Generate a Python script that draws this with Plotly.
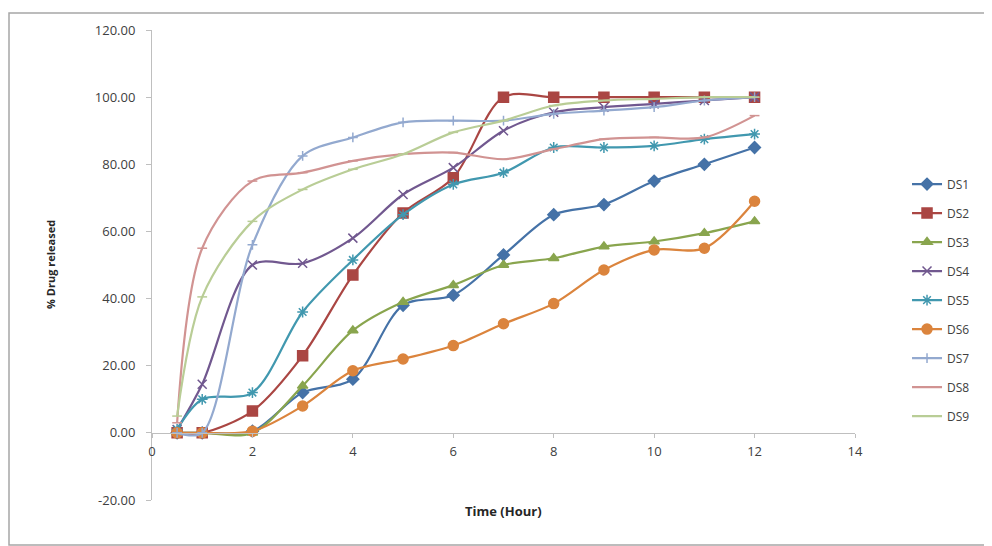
import plotly.graph_objects as go

# sampling times (hours)
time_h = [0.5, 1, 2, 3, 4, 5, 6, 7, 8, 9, 10, 11, 12]

# % drug released for each formulation
ds1 = [0, 0, 0.5, 12, 16, 38, 41, 53, 65, 68, 75, 80, 85]
ds2 = [0, 0, 6.5, 23, 47, 65.5, 76, 100, 100, 100, 100, 100, 100]
ds3 = [0, 0, 0, 14, 30.5, 39, 44, 50, 52, 55.5, 57, 59.5, 63]
ds4 = [1, 14.5, 50, 50.5, 58, 71, 79, 90, 95.5, 97, 98, 99, 100]
ds5 = [1, 10, 12, 36, 51.5, 65, 74, 77.5, 85, 85, 85.5, 87.5, 89]
ds6 = [0, 0, 0.5, 8, 18.5, 22, 26, 32.5, 38.5, 48.5, 54.5, 55, 69]
ds7 = [0, 0, 56, 82.5, 88, 92.5, 93, 93, 95, 96, 97, 99, 100]
ds8 = [3, 55, 75, 77.5, 81, 83, 83.5, 81.5, 84.5, 87.5, 88, 88, 94.5]
ds9 = [5, 40.5, 63, 72.5, 78.5, 83, 89.5, 93, 97.5, 99, 99.5, 100, 100]

names = ["DS1", "DS2", "DS3", "DS4", "DS5", "DS6", "DS7", "DS8", "DS9"]
series = [ds1, ds2, ds3, ds4, ds5, ds6, ds7, ds8, ds9]

x_ticks = [0, 2, 4, 6, 8, 10, 12, 14]
y_ticks = [-20, 0, 20, 40, 60, 80, 100, 120]

# excel 2007 style colours / markers
colors = ["#4572A7", "#AA4643", "#89A54E", "#71588F", "#4198AF",
          "#DB843D", "#93A9CF", "#D19392", "#B9CD96"]
symbols = ["diamond", "square", "triangle-up", "x-thin", "asterisk",
           "circle", "cross-thin", "line-ew", "line-ew"]
sizes = [9, 10, 9, 9, 9, 10, 7, 7, 7]

fig = go.Figure()

for i, (nm, vals) in enumerate(zip(names, series)):
    fig.add_trace(go.Scatter(
        x=time_h, y=vals, name=nm,
        mode="lines+markers",
        line=dict(color=colors[i], width=2.2, shape="spline", smoothing=0.9),
        marker=dict(symbol=symbols[i], size=sizes[i], color=colors[i],
                    line=dict(color=colors[i], width=1.5)),
        legendgroup=nm,
    ))

# page has an 8px body margin, so plot area is placed 8px up/left
L, T, W, H = 144, 22, 703, 470

fig.update_layout(
    width=992, height=546,
    margin=dict(l=L, r=992 - L - W, t=T, b=546 - T - H),
    paper_bgcolor="white", plot_bgcolor="white",
    font=dict(family="Open Sans, Liberation Sans, sans-serif", size=12, color="#404040"),
    showlegend=True,
    legend=dict(x=1.074, y=0.703, xanchor="left", yanchor="top",
                tracegroupgap=10, font=dict(size=12, color="#404040"),
                bgcolor="rgba(0,0,0,0)"),
    xaxis=dict(range=[0, 14], tickvals=x_ticks, ticktext=[str(v) for v in x_ticks],
               anchor="free", position=20 / 140,
               showline=True, linecolor="#BFBFBF", linewidth=1,
               ticks="outside", ticklen=4, tickcolor="#BFBFBF",
               ticklabelstandoff=3,
               showgrid=False, zeroline=False,
               tickfont=dict(size=13, color="#404040")),
    yaxis=dict(range=[-20, 120], tickvals=y_ticks,
               ticktext=[f"{v:.2f}" for v in y_ticks],
               showline=True, linecolor="#BFBFBF", linewidth=1,
               ticks="outside", ticklen=5, tickcolor="#BFBFBF",
               ticklabelstandoff=8,
               showgrid=False, zeroline=False,
               tickfont=dict(size=13, color="#404040")),
)

# axis titles
fig.add_annotation(text="<b>Time (Hour)</b>", xref="paper", yref="paper",
                   x=(503 - 152) / W, y=(500 - 511) / H, showarrow=False,
                   xanchor="center", yanchor="middle",
                   font=dict(size=13, color="#262626"))
fig.add_annotation(text="<b>% Drug released</b>", xref="paper", yref="paper",
                   x=(50 - 152) / W, y=0.5, textangle=-90, showarrow=False,
                   xanchor="center", yanchor="middle",
                   font=dict(size=11, color="#262626"))

# chart area border
fig.add_shape(type="rect", xref="paper", yref="paper",
              x0=(9 - 152) / W, x1=(991 - 152) / W,
              y0=(500 - 545) / H, y1=(500 - 13) / H,
              line=dict(color="#A6A6A6", width=1.5), layer="below")

fig.write_html("out.html")
